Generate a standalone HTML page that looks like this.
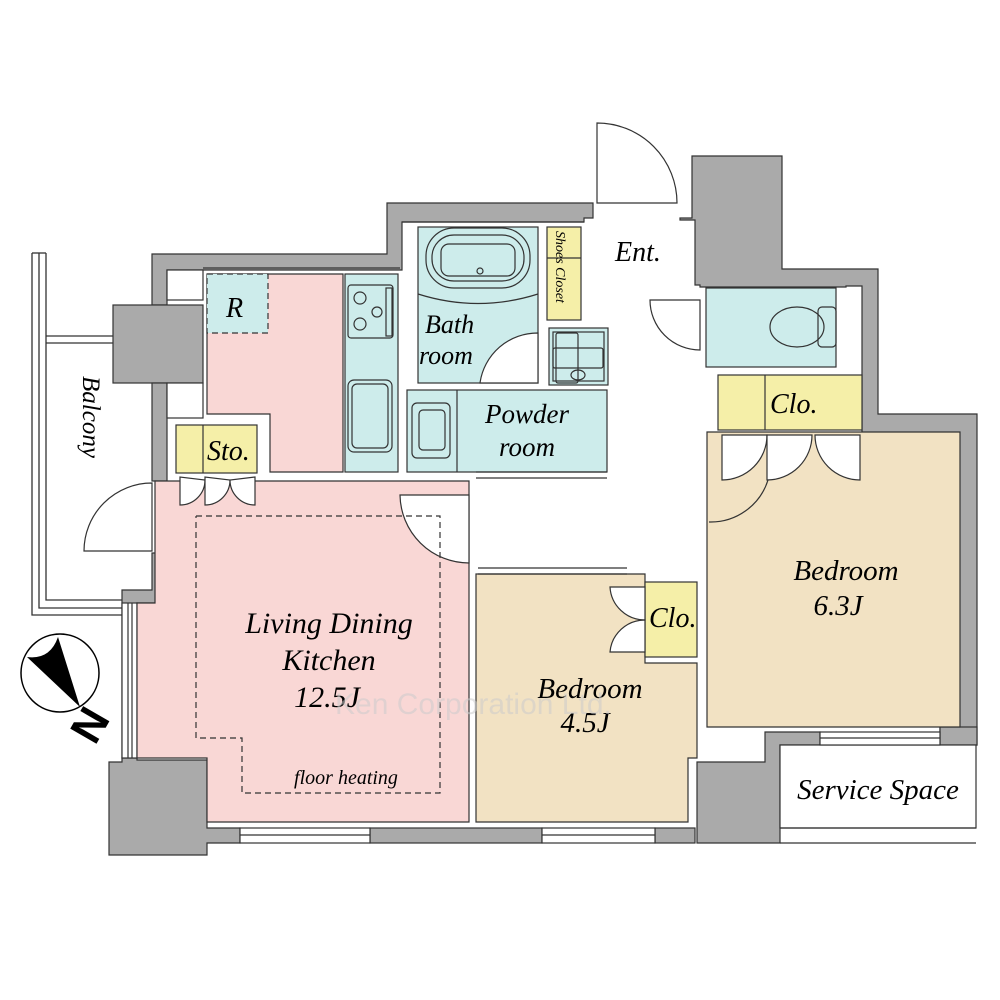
<!DOCTYPE html>
<html><head><meta charset="utf-8"><style>
html,body{margin:0;padding:0;background:#fff;}
svg{display:block}
text{font-family:"Liberation Serif",serif;font-style:italic;fill:#000}
</style></head><body>
<svg width="1000" height="1000" viewBox="0 0 1000 1000" xmlns="http://www.w3.org/2000/svg">
<rect width="1000" height="1000" fill="#fff"/>
<g stroke="#333" stroke-width="1.3" fill="none">
<polyline points="32,253 32,615 122,615"/>
<polyline points="39,253 39,608 122,608"/>
<polyline points="46,253 46,600 122,600"/>
<line x1="32" y1="253" x2="46" y2="253"/>
<line x1="46" y1="336" x2="113" y2="336"/><line x1="46" y1="343" x2="113" y2="343"/>
</g>
<g fill="#aaa" stroke="#333" stroke-width="1.2">
<polygon points="152,254 387,254 387,203 593,203 593,218 584,218 584,222 402,222 402,270 167,270 167,305 152,305"/>
<rect x="113" y="305" width="90" height="78"/>
<rect x="152" y="383" width="15" height="98"/>
<polygon points="680,218 692,218 692,156 782,156 782,269 878,269 878,414 977,414 977,745 940,745 940,433 862,433 862,286 846,286 846,287 700,287 700,285 695,285 695,220 680,220"/>
<polygon points="152,553 168,553 168,603 137,603 137,758 122,758 122,590 152,590"/>
<polygon points="109,762 122,762 122,758 137,758 137,760 207,760 207,828 240,828 240,843 207,843 207,855 109,855"/>
<rect x="370" y="828" width="172" height="15"/>
<rect x="655" y="828" width="40" height="15"/>
<polygon points="697,762 765,762 765,732 820,732 820,745 780,745 780,843 697,843"/>
<rect x="940" y="727" width="37" height="18"/>
</g>
<g stroke="#333" stroke-width="1.2" fill="#fff">
<rect x="167" y="270" width="36" height="30"/>
<rect x="167" y="383" width="36" height="35"/>
<rect x="122" y="603" width="15" height="155"/>
<line x1="128" y1="603" x2="128" y2="758"/><line x1="132" y1="603" x2="132" y2="758"/>
<line x1="402" y1="222" x2="584" y2="222"/>
<line x1="203" y1="268" x2="400" y2="268"/>
</g>
<g stroke="#333" stroke-width="1.2">
<polygon fill="#f9d7d5" points="207,274 343,274 343,472 270,472 270,414 207,414"/>
<rect x="207" y="274" width="61" height="59" fill="#cdeceb" stroke-dasharray="6,4"/>
<rect x="345" y="274" width="53" height="198" fill="#cdeceb"/>
<rect x="176" y="425" width="81" height="48" fill="#f5efa8"/>
<line x1="203" y1="425" x2="203" y2="473"/>
<rect x="418" y="227" width="120" height="156" fill="#cdeceb"/>
<rect x="407" y="390" width="200" height="82" fill="#cdeceb"/>
<line x1="457" y1="390" x2="457" y2="472"/>
<rect x="547" y="227" width="34" height="93" fill="#f5efa8"/>
<line x1="547" y1="258" x2="581" y2="258"/>
<rect x="549" y="328" width="59" height="57" fill="#cdeceb"/>
<rect x="553" y="332" width="51" height="49" fill="none"/>
<rect x="706" y="288" width="130" height="79" fill="#cdeceb"/>
<rect x="718" y="375" width="144" height="55" fill="#f5efa8"/>
<line x1="765" y1="375" x2="765" y2="430"/>
<polygon fill="#f2e2c3" points="707,432 960,432 960,727 707,727"/>
<polygon fill="#f9d7d5" points="155,481 469,481 469,822 207,822 207,758 137,758 137,603 155,603"/>
<polygon fill="#f2e2c3" points="476,574 645,574 645,663 697,663 697,758 688,758 688,822 476,822"/>
<rect x="645" y="582" width="52" height="75" fill="#f5efa8"/>
<rect x="780" y="745" width="196" height="83" fill="#fff"/>
<line x1="780" y1="828" x2="976" y2="828"/><line x1="780" y1="843" x2="976" y2="843"/>
</g>
<g stroke="#333" stroke-width="1.2" fill="#fff">
<rect x="240" y="828" width="130" height="15"/><line x1="240" y1="835" x2="370" y2="835"/>
<rect x="542" y="828" width="113" height="15"/><line x1="542" y1="835" x2="655" y2="835"/>
<rect x="820" y="732" width="120" height="13"/><line x1="820" y1="738" x2="940" y2="738"/>
<line x1="478" y1="568" x2="627" y2="568"/><line x1="478" y1="574" x2="627" y2="574"/>
<line x1="476" y1="472" x2="607" y2="472"/><line x1="476" y1="478" x2="607" y2="478"/>
</g>
<g stroke="#333" stroke-width="1.2" fill="#fff">
<path d="M152,483 A68,68 0 0 0 84,551 L152,551 Z"/>
<path d="M400,495 L469,495 L469,563 A69,69 0 0 1 400,495 Z"/>
<path d="M538,333 L538,383 L480,383 A58,58 0 0 1 538,333 Z"/>
<path d="M597,123 L597,203 L677,203 A80,80 0 0 0 597,123 Z"/>
<path d="M700,300 L650,300 A50,50 0 0 0 700,350 Z"/>
<path d="M180,477 L180,505 A25,25 0 0 0 205,480Z"/>
<path d="M205,477 L205,505 A25,25 0 0 0 230,480Z"/>
<path d="M255,477 L255,505 A25,25 0 0 1 230,480Z"/>
<path d="M722,435 L722,480 A45,45 0 0 0 767,435Z"/>
<path d="M767,435 L767,480 A45,45 0 0 0 812,435Z"/>
<path d="M860,435 L860,480 A45,45 0 0 1 815,435Z"/>
<path d="M645,587 L610,587 A35,35 0 0 0 645,620Z"/>
<path d="M645,652 L610,652 A35,35 0 0 1 645,620Z"/>
<path d="M768,480 A60,60 0 0 1 709,522" fill="none"/>
</g>
<g stroke="#333" stroke-width="1.2" fill="none">
<rect x="348" y="285" width="45" height="53" rx="3"/>
<circle cx="360" cy="298" r="6"/><circle cx="377" cy="312" r="5"/><circle cx="360" cy="324" r="6"/>
<rect x="386" y="288" width="6" height="48"/>
<rect x="348" y="380" width="44" height="72" rx="6"/>
<rect x="352" y="384" width="36" height="64" rx="5"/>
<rect x="412" y="403" width="38" height="55" rx="5"/>
<rect x="419" y="410" width="26" height="40" rx="4"/>
<rect x="426" y="228" width="104" height="60" rx="28"/>
<rect x="432" y="235" width="92" height="46" rx="22"/>
<rect x="441" y="244" width="74" height="32" rx="8"/>
<circle cx="480" cy="271" r="3"/>
<path d="M418,294 Q478,313 538,294"/>
<rect x="556" y="333" width="22" height="50" rx="2"/>
<rect x="553" y="348" width="50" height="20" rx="2"/>
<ellipse cx="578" cy="375" rx="7" ry="5"/>
<ellipse cx="797" cy="327" rx="27" ry="20"/>
<rect x="818" y="307" width="18" height="40" rx="4"/>
</g>
<polyline points="196,516 440,516 440,793 242,793 242,738 196,738 196,516" fill="none" stroke="#333" stroke-width="1.2" stroke-dasharray="6,4"/>
<circle cx="60" cy="673" r="39" fill="#fff" stroke="#000" stroke-width="1.5"/>
<path d="M27,657 Q50,660 58,637 L80,707 Z" fill="#000"/>
<text x="90" y="740" font-size="44" text-anchor="middle" transform="rotate(-60 90 725)" style="font-family:'Liberation Sans',sans-serif;font-style:normal;font-weight:bold">N</text>
<text x="226" y="317" font-size="28">R</text>
<text x="207" y="460" font-size="28">Sto.</text>
<text x="425" y="333" font-size="26">Bath</text>
<text x="419" y="364" font-size="26">room</text>
<text x="485" y="423" font-size="27">Powder</text>
<text x="499" y="456" font-size="27">room</text>
<text x="615" y="261" font-size="28">Ent.</text>
<text x="770" y="413" font-size="28">Clo.</text>
<text x="649" y="627" font-size="28">Clo.</text>
<text x="0" y="0" font-size="14" transform="translate(556,231) rotate(90)">Shoes Closet</text>
<text x="0" y="0" font-size="25" transform="translate(83,376) rotate(90)">Balcony</text>
<text x="329" y="633" font-size="30" text-anchor="middle">Living Dining</text>
<text x="329" y="670" font-size="30" text-anchor="middle">Kitchen</text>
<text x="327" y="707" font-size="30" text-anchor="middle">12.5J</text>
<text x="346" y="784" font-size="20" text-anchor="middle">floor heating</text>
<text x="590" y="698" font-size="29" text-anchor="middle">Bedroom</text>
<text x="585" y="732" font-size="29" text-anchor="middle">4.5J</text>
<text x="846" y="580" font-size="29" text-anchor="middle">Bedroom</text>
<text x="838" y="615" font-size="29" text-anchor="middle">6.3J</text>
<text x="878" y="799" font-size="29" text-anchor="middle">Service Space</text>
<text x="335" y="714" font-size="30" style="font-family:'Liberation Sans',sans-serif;font-style:normal;fill:#ccc;opacity:0.55">Ken Corporation Ltd.</text>
</svg>
</body></html>
